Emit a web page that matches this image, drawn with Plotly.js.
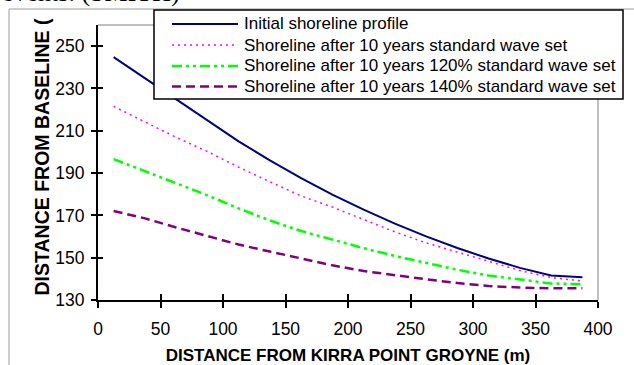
<!DOCTYPE html>
<html>
<head>
<meta charset="utf-8">
<script src="https://cdn.plot.ly/plotly-3.0.1.min.js"></script>
<style>html,body{margin:0;padding:0;background:#fff;}#chart{width:634px;height:365px;}</style>
</head>
<body>
<div id="chart"></div>
<script>
// Distance from Kirra Point groyne (m)
const distance = [12.5, 37.5, 62.5, 87.5, 112.5, 137.5, 162.5, 187.5, 212.5, 237.5, 262.5, 287.5, 312.5, 337.5, 362.5, 387.5];
// Distance from baseline (m)
const initialProfile = [244.8, 234.9, 224.9, 215.0, 205.0, 196.0, 187.6, 179.8, 172.7, 166.1, 160.1, 154.6, 149.6, 145.2, 141.6, 140.7];
const standardSet   = [221.5, 214.3, 206.9, 200.2, 192.8, 185.9, 179.2, 173.9, 168.0, 162.2, 157.0, 152.8, 148.3, 143.9, 140.6, 139.0];
const set120        = [196.6, 191.0, 185.3, 179.5, 173.3, 167.6, 162.6, 158.4, 154.5, 150.8, 147.4, 144.3, 141.6, 139.6, 137.8, 137.5];
const set140        = [172.1, 168.6, 164.3, 160.1, 156.2, 152.9, 149.5, 146.4, 143.7, 141.6, 139.8, 138.0, 136.6, 135.9, 135.5, 135.5];
const seriesNames = [
  "Initial shoreline profile",
  "Shoreline after 10 years standard wave set",
  "Shoreline after 10 years 120% standard wave set",
  "Shoreline after 10 years 140% standard wave set"
];
const xTickVals = [0, 50, 100, 150, 200, 250, 300, 350, 400];
const yTickVals = [130, 150, 170, 190, 210, 230, 250];
const xTitle = "DISTANCE FROM KIRRA POINT GROYNE (m)";
const yTitle = "DISTANCE FROM BASELINE (";
const headerText = "events. (SMITH)";

const seriesValues = [initialProfile, standardSet, set120, set140];
const styles = [
  {color: "#000080", width: 2, dash: "solid"},
  {color: "#FF00FF", width: 1.5, dash: "2px,4px"},
  {color: "#00FF00", width: 2.5, dash: "10px,4px,3px,4px,3px,4px"},
  {color: "#800080", width: 2.5, dash: "9px,5px"}
];

const traces = seriesValues.map((vals, i) => ({
  type: "scatter", mode: "lines", x: distance, y: vals, name: seriesNames[i],
  line: {color: styles[i].color, width: styles[i].width, dash: styles[i].dash},
  hoverinfo: "skip", showlegend: false
}));
// helper trace for the inner half of the cross tick marks
traces.push({type: "scatter", mode: "lines", x: [], y: [], xaxis: "x2", yaxis: "y2", showlegend: false, hoverinfo: "skip"});

const W = 634, H = 365, ML = 98, MR = 36, MT = 25, MB = 65;
const PW = W - ML - MR, PH = H - MT - MB;
const px = v => (v - ML) / PW;
const py = v => (H - MB - v) / PH;

const shapes = [
  // outer chart border (gray)
  {type: "line", xref: "paper", yref: "paper", x0: px(9), x1: px(9), y0: py(9), y1: py(370), line: {color: "#bdbdbd", width: 1.5}, layer: "above"},
  {type: "line", xref: "paper", yref: "paper", x0: px(9), x1: px(640), y0: py(9), y1: py(9), line: {color: "#bdbdbd", width: 1.5}, layer: "above"},
  // plot frame top & right
  {type: "line", xref: "paper", yref: "paper", x0: 0, x1: 1, y0: 1, y1: 1, line: {color: "#808080", width: 1}, layer: "above"},
  {type: "line", xref: "paper", yref: "paper", x0: 1, x1: 1, y0: 0, y1: 1, line: {color: "#808080", width: 1}, layer: "above"},
  // legend box
  {type: "rect", xref: "paper", yref: "paper", x0: px(154), x1: px(623), y0: py(99), y1: py(10), fillcolor: "#ffffff", line: {color: "#000000", width: 1.5}, layer: "above"}
];
const rowY = [24, 45, 66, 86.5];
const annotations = [];
seriesNames.forEach((name, i) => {
  shapes.push({type: "line", xref: "paper", yref: "paper", x0: px(172), x1: px(238), y0: py(rowY[i]), y1: py(rowY[i]),
    line: {color: styles[i].color, width: styles[i].width, dash: styles[i].dash}, layer: "above"});
  annotations.push({xref: "paper", yref: "paper", x: px(242), y: py(rowY[i]), xanchor: "left", yanchor: "middle",
    text: name, showarrow: false, font: {family: "Liberation Sans, Arial, sans-serif", size: 17, color: "#000"}});
});
annotations.push({xref: "paper", yref: "paper", x: px(41), y: py(298), xanchor: "center", yanchor: "bottom",
  text: "<b>" + yTitle + "</b>", textangle: -90, showarrow: false,
  font: {family: "Liberation Sans, Arial, sans-serif", size: 19.5, color: "#000"}});
annotations.push({xref: "paper", yref: "paper", x: px(0), y: py(9), xanchor: "left", yanchor: "bottom",
  text: headerText, showarrow: false, font: {family: "Liberation Serif, Times New Roman, serif", size: 26, color: "#000"}});

const tickFont = {family: "Liberation Sans, Arial, sans-serif", size: 17.5, color: "#000"};
const layout = {
  width: W, height: H,
  margin: {l: ML, r: MR, t: MT, b: MB, pad: 0},
  paper_bgcolor: "#fff", plot_bgcolor: "#fff",
  showlegend: false,
  xaxis: {range: [0, 400], tickvals: xTickVals, ticktext: xTickVals.map(String), ticks: "outside", ticklen: 6, tickwidth: 2, tickcolor: "#000",
    showline: true, linecolor: "#000", linewidth: 2, showgrid: false, zeroline: false, tickfont: tickFont, ticklabelstandoff: 6,
    title: {text: "<b>" + xTitle + "</b>", font: {family: "Liberation Sans, Arial, sans-serif", size: 17, color: "#000"}, standoff: 14},
    automargin: false, fixedrange: true},
  yaxis: {range: [130, 260], tickvals: yTickVals, ticktext: yTickVals.map(String), ticks: "outside", ticklen: 5, tickwidth: 2, tickcolor: "#000",
    showline: true, linecolor: "#000", linewidth: 2, showgrid: false, zeroline: false, tickfont: tickFont, ticklabelstandoff: 3,
    automargin: false, fixedrange: true},
  xaxis2: {overlaying: "x", anchor: "y", side: "bottom", range: [0, 400], tickvals: xTickVals, ticks: "inside", ticklen: 6, tickwidth: 2, tickcolor: "#000",
    showticklabels: false, showline: false, showgrid: false, zeroline: false, fixedrange: true},
  yaxis2: {overlaying: "y", anchor: "x", side: "left", range: [130, 260], tickvals: yTickVals, ticks: "inside", ticklen: 5, tickwidth: 2, tickcolor: "#000",
    showticklabels: false, showline: false, showgrid: false, zeroline: false, fixedrange: true},
  shapes: shapes,
  annotations: annotations
};
Plotly.newPlot("chart", traces, layout, {staticPlot: true, displayModeBar: false});
</script>
</body>
</html>
